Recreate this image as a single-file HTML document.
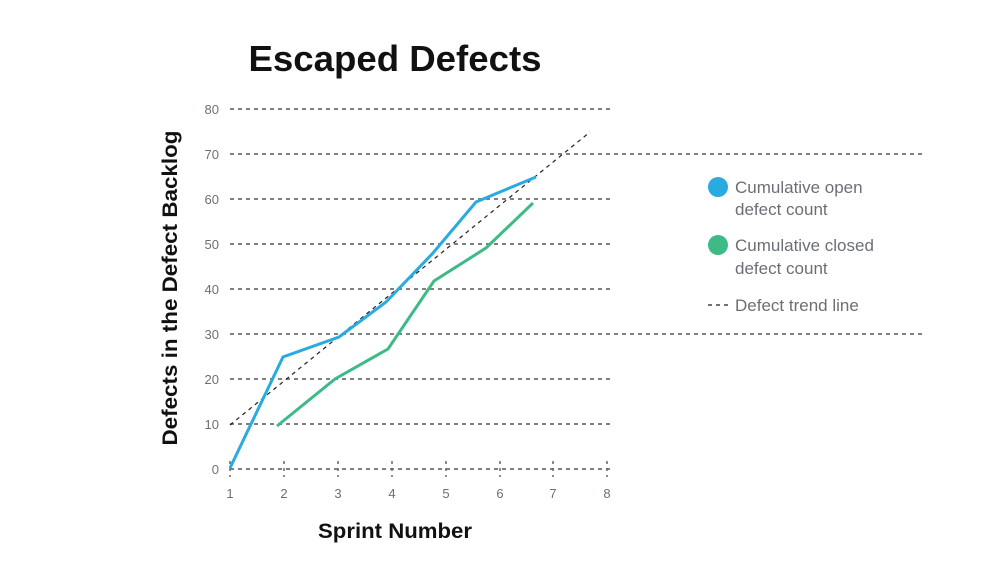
<!DOCTYPE html>
<html><head><meta charset="utf-8"><style>
body{margin:0;background:#fff;}
svg text{font-family:"Liberation Sans",sans-serif;}
</style></head><body>
<svg width="1000" height="583" viewBox="0 0 1000 583" xmlns="http://www.w3.org/2000/svg">
<text x="395" y="71" text-anchor="middle" font-size="36" font-weight="bold" fill="#111" textLength="293" lengthAdjust="spacingAndGlyphs">Escaped Defects</text>
<g stroke="#808080" stroke-width="2" stroke-dasharray="4,4">
<line x1="230" y1="109" x2="612" y2="109"/>
<line x1="230" y1="154" x2="925" y2="154"/>
<line x1="230" y1="199" x2="612" y2="199"/>
<line x1="230" y1="244" x2="612" y2="244"/>
<line x1="230" y1="289" x2="612" y2="289"/>
<line x1="230" y1="334" x2="925" y2="334"/>
<line x1="230" y1="379" x2="612" y2="379"/>
<line x1="230" y1="424" x2="612" y2="424"/>
<line x1="230" y1="469" x2="612" y2="469"/>
</g>
<g stroke="#666" stroke-width="1.5" stroke-dasharray="3,4">
<line x1="230" y1="461" x2="230" y2="477"/><line x1="284" y1="461" x2="284" y2="477"/>
<line x1="338" y1="461" x2="338" y2="477"/><line x1="392" y1="461" x2="392" y2="477"/>
<line x1="446" y1="461" x2="446" y2="477"/><line x1="500" y1="461" x2="500" y2="477"/>
<line x1="553" y1="461" x2="553" y2="477"/><line x1="607" y1="461" x2="607" y2="477"/>
</g>
<g font-size="13" fill="#6b6f75" text-anchor="end">
<text x="219" y="114">80</text><text x="219" y="159">70</text><text x="219" y="204">60</text>
<text x="219" y="249">50</text><text x="219" y="294">40</text><text x="219" y="339">30</text>
<text x="219" y="384">20</text><text x="219" y="429">10</text><text x="219" y="474">0</text>
</g>
<g font-size="13" fill="#6b6f75" text-anchor="middle">
<text x="230" y="498">1</text><text x="284" y="498">2</text><text x="338" y="498">3</text>
<text x="392" y="498">4</text><text x="446" y="498">5</text><text x="500" y="498">6</text>
<text x="553" y="498">7</text><text x="607" y="498">8</text>
</g>
<line x1="230" y1="425" x2="590" y2="132" stroke="#222" stroke-width="1.2" stroke-dasharray="4,4"/>
<polyline points="277,426 335,379 388,349 434,281 486,248 533,203" fill="none" stroke="#3dba86" stroke-width="3"/>
<polyline points="230,468 283,357 339,337 386,302 433,253 476,202 536,177" fill="none" stroke="#29abe0" stroke-width="3"/>
<text x="395" y="538" text-anchor="middle" font-size="21" font-weight="bold" fill="#111" textLength="154" lengthAdjust="spacingAndGlyphs">Sprint Number</text>
<text transform="translate(177,288) rotate(-90)" text-anchor="middle" font-size="21" font-weight="bold" fill="#111" textLength="315" lengthAdjust="spacingAndGlyphs">Defects in the Defect Backlog</text>
<circle cx="718" cy="187" r="10" fill="#29abe0"/>
<circle cx="718" cy="245" r="10" fill="#3dba86"/>
<line x1="708" y1="305" x2="728" y2="305" stroke="#222" stroke-width="1.2" stroke-dasharray="4,4"/>
<g font-size="17" fill="#6b6f75">
<text x="735" y="193">Cumulative open</text><text x="735" y="215">defect count</text>
<text x="735" y="251">Cumulative closed</text><text x="735" y="274">defect count</text>
<text x="735" y="311">Defect trend line</text>
</g>
</svg>
</body></html>
